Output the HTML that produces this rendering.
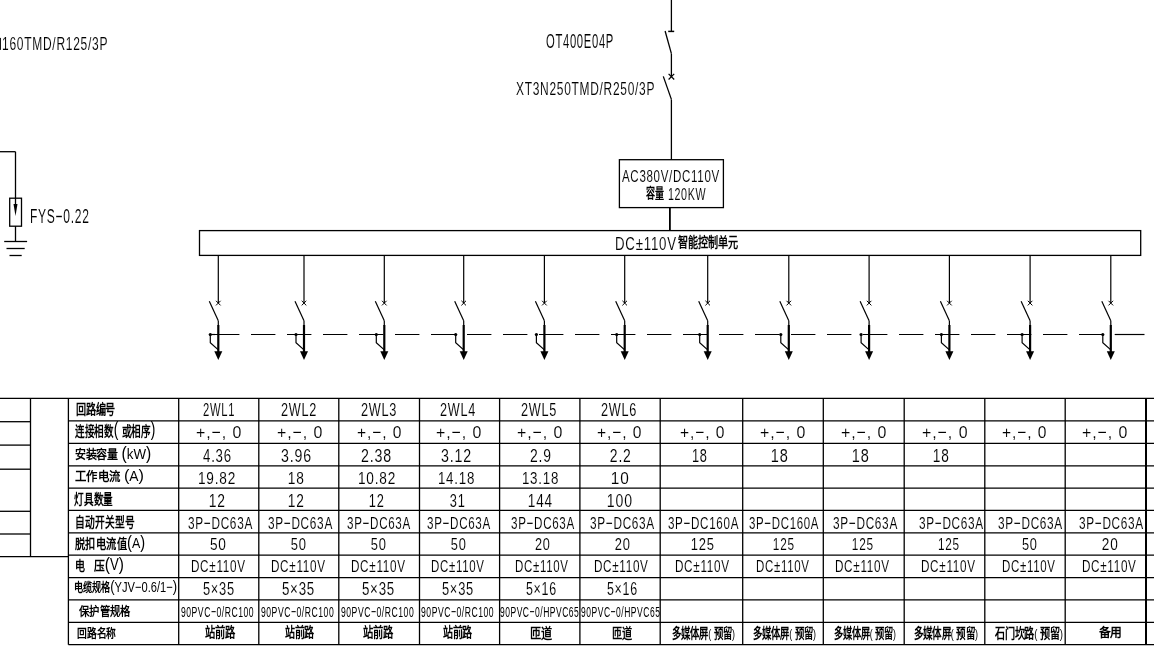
<!DOCTYPE html><html lang="zh-CN"><head><meta charset="utf-8"><title>Diagram</title><style>html,body{margin:0;padding:0;background:#fff;overflow:hidden}svg{display:block;will-change:transform}text{font-family:"Liberation Sans",sans-serif;fill:#000;white-space:pre}text.l{stroke:#fff;stroke-width:0.1px}text.l,text.p{letter-spacing:0.06em}.c{font-weight:bold}</style></head><body>
<svg width="1154" height="649" viewBox="0 0 1154 649">
<rect x="0" y="0" width="1154" height="649" fill="#fff"/>
<g id="lines"><line x1="671.40" y1="0.00" x2="671.40" y2="31.40" stroke="#000" stroke-width="1.3"/><line x1="668.20" y1="31.40" x2="674.20" y2="31.40" stroke="#000" stroke-width="1.5"/><line x1="665.10" y1="31.00" x2="671.40" y2="53.60" stroke="#000" stroke-width="1.3"/><line x1="671.40" y1="53.60" x2="671.40" y2="76.70" stroke="#000" stroke-width="1.3"/><line x1="668.60" y1="73.90" x2="674.20" y2="79.50" stroke="#000" stroke-width="1.2"/><line x1="668.60" y1="79.50" x2="674.20" y2="73.90" stroke="#000" stroke-width="1.2"/><line x1="663.30" y1="76.40" x2="671.40" y2="99.40" stroke="#000" stroke-width="1.3"/><line x1="671.40" y1="99.40" x2="671.40" y2="159.70" stroke="#000" stroke-width="1.3"/><rect x="619.4" y="159.7" width="104" height="47.9" fill="none" stroke="#000" stroke-width="1.3"/><line x1="669.90" y1="207.60" x2="669.90" y2="230.60" stroke="#000" stroke-width="1.8"/><rect x="199.5" y="230.6" width="941.2" height="24.8" fill="none" stroke="#000" stroke-width="1.3"/><line x1="0.00" y1="151.70" x2="15.50" y2="151.70" stroke="#000" stroke-width="1.3"/><line x1="15.50" y1="151.70" x2="15.50" y2="205.00" stroke="#000" stroke-width="1.3"/><line x1="15.50" y1="226.20" x2="15.50" y2="241.50" stroke="#000" stroke-width="1.3"/><rect x="9.7" y="198.2" width="11.8" height="28" fill="none" stroke="#000" stroke-width="1.3"/><path d="M13.5 204.0 L17.5 204.0 L15.5 216.0 Z" fill="#000"/><line x1="4.20" y1="241.50" x2="27.10" y2="241.50" stroke="#000" stroke-width="1.3"/><line x1="6.50" y1="248.50" x2="24.70" y2="248.50" stroke="#000" stroke-width="1.3"/><line x1="9.50" y1="255.50" x2="21.70" y2="255.50" stroke="#000" stroke-width="1.3"/><rect x="0" y="37.9" width="0.9" height="12" fill="#000"/><line x1="218.30" y1="255.40" x2="218.30" y2="303.10" stroke="#000" stroke-width="1.2"/><line x1="216.00" y1="300.80" x2="220.60" y2="305.40" stroke="#000" stroke-width="1.0"/><line x1="216.00" y1="305.40" x2="220.60" y2="300.80" stroke="#000" stroke-width="1.0"/><line x1="209.30" y1="301.30" x2="218.30" y2="320.80" stroke="#000" stroke-width="1.2"/><line x1="218.30" y1="320.80" x2="218.30" y2="325.50" stroke="#000" stroke-width="1.2"/><line x1="218.30" y1="325.00" x2="218.30" y2="352.00" stroke="#000" stroke-width="2.2"/><path d="M214.30 351.2 L222.30 351.2 L218.30 360.1 Z" fill="#000"/><circle cx="210.30" cy="334.5" r="1.6" fill="#000"/><path d="M210.30 334.5 L210.30 342.7 L218.30 349.9" fill="none" stroke="#000" stroke-width="1.2"/><line x1="304.00" y1="255.40" x2="304.00" y2="303.10" stroke="#000" stroke-width="1.2"/><line x1="301.70" y1="300.80" x2="306.30" y2="305.40" stroke="#000" stroke-width="1.0"/><line x1="301.70" y1="305.40" x2="306.30" y2="300.80" stroke="#000" stroke-width="1.0"/><line x1="295.00" y1="301.30" x2="304.00" y2="320.80" stroke="#000" stroke-width="1.2"/><line x1="304.00" y1="320.80" x2="304.00" y2="325.50" stroke="#000" stroke-width="1.2"/><line x1="304.00" y1="325.00" x2="304.00" y2="352.00" stroke="#000" stroke-width="2.2"/><path d="M300.00 351.2 L308.00 351.2 L304.00 360.1 Z" fill="#000"/><circle cx="296.00" cy="334.5" r="1.6" fill="#000"/><path d="M296.00 334.5 L296.00 342.7 L304.00 349.9" fill="none" stroke="#000" stroke-width="1.2"/><line x1="384.30" y1="255.40" x2="384.30" y2="303.10" stroke="#000" stroke-width="1.2"/><line x1="382.00" y1="300.80" x2="386.60" y2="305.40" stroke="#000" stroke-width="1.0"/><line x1="382.00" y1="305.40" x2="386.60" y2="300.80" stroke="#000" stroke-width="1.0"/><line x1="375.30" y1="301.30" x2="384.30" y2="320.80" stroke="#000" stroke-width="1.2"/><line x1="384.30" y1="320.80" x2="384.30" y2="325.50" stroke="#000" stroke-width="1.2"/><line x1="384.30" y1="325.00" x2="384.30" y2="352.00" stroke="#000" stroke-width="2.2"/><path d="M380.30 351.2 L388.30 351.2 L384.30 360.1 Z" fill="#000"/><circle cx="376.30" cy="334.5" r="1.6" fill="#000"/><path d="M376.30 334.5 L376.30 342.7 L384.30 349.9" fill="none" stroke="#000" stroke-width="1.2"/><line x1="463.70" y1="255.40" x2="463.70" y2="303.10" stroke="#000" stroke-width="1.2"/><line x1="461.40" y1="300.80" x2="466.00" y2="305.40" stroke="#000" stroke-width="1.0"/><line x1="461.40" y1="305.40" x2="466.00" y2="300.80" stroke="#000" stroke-width="1.0"/><line x1="454.70" y1="301.30" x2="463.70" y2="320.80" stroke="#000" stroke-width="1.2"/><line x1="463.70" y1="320.80" x2="463.70" y2="325.50" stroke="#000" stroke-width="1.2"/><line x1="463.70" y1="325.00" x2="463.70" y2="352.00" stroke="#000" stroke-width="2.2"/><path d="M459.70 351.2 L467.70 351.2 L463.70 360.1 Z" fill="#000"/><circle cx="455.70" cy="334.5" r="1.6" fill="#000"/><path d="M455.70 334.5 L455.70 342.7 L463.70 349.9" fill="none" stroke="#000" stroke-width="1.2"/><line x1="544.40" y1="255.40" x2="544.40" y2="303.10" stroke="#000" stroke-width="1.2"/><line x1="542.10" y1="300.80" x2="546.70" y2="305.40" stroke="#000" stroke-width="1.0"/><line x1="542.10" y1="305.40" x2="546.70" y2="300.80" stroke="#000" stroke-width="1.0"/><line x1="535.40" y1="301.30" x2="544.40" y2="320.80" stroke="#000" stroke-width="1.2"/><line x1="544.40" y1="320.80" x2="544.40" y2="325.50" stroke="#000" stroke-width="1.2"/><line x1="544.40" y1="325.00" x2="544.40" y2="352.00" stroke="#000" stroke-width="2.2"/><path d="M540.40 351.2 L548.40 351.2 L544.40 360.1 Z" fill="#000"/><circle cx="536.40" cy="334.5" r="1.6" fill="#000"/><path d="M536.40 334.5 L536.40 342.7 L544.40 349.9" fill="none" stroke="#000" stroke-width="1.2"/><line x1="624.70" y1="255.40" x2="624.70" y2="303.10" stroke="#000" stroke-width="1.2"/><line x1="622.40" y1="300.80" x2="627.00" y2="305.40" stroke="#000" stroke-width="1.0"/><line x1="622.40" y1="305.40" x2="627.00" y2="300.80" stroke="#000" stroke-width="1.0"/><line x1="615.70" y1="301.30" x2="624.70" y2="320.80" stroke="#000" stroke-width="1.2"/><line x1="624.70" y1="320.80" x2="624.70" y2="325.50" stroke="#000" stroke-width="1.2"/><line x1="624.70" y1="325.00" x2="624.70" y2="352.00" stroke="#000" stroke-width="2.2"/><path d="M620.70 351.2 L628.70 351.2 L624.70 360.1 Z" fill="#000"/><circle cx="616.70" cy="334.5" r="1.6" fill="#000"/><path d="M616.70 334.5 L616.70 342.7 L624.70 349.9" fill="none" stroke="#000" stroke-width="1.2"/><line x1="707.70" y1="255.40" x2="707.70" y2="303.10" stroke="#000" stroke-width="1.2"/><line x1="705.40" y1="300.80" x2="710.00" y2="305.40" stroke="#000" stroke-width="1.0"/><line x1="705.40" y1="305.40" x2="710.00" y2="300.80" stroke="#000" stroke-width="1.0"/><line x1="698.70" y1="301.30" x2="707.70" y2="320.80" stroke="#000" stroke-width="1.2"/><line x1="707.70" y1="320.80" x2="707.70" y2="325.50" stroke="#000" stroke-width="1.2"/><line x1="707.70" y1="325.00" x2="707.70" y2="352.00" stroke="#000" stroke-width="2.2"/><path d="M703.70 351.2 L711.70 351.2 L707.70 360.1 Z" fill="#000"/><circle cx="699.70" cy="334.5" r="1.6" fill="#000"/><path d="M699.70 334.5 L699.70 342.7 L707.70 349.9" fill="none" stroke="#000" stroke-width="1.2"/><line x1="788.80" y1="255.40" x2="788.80" y2="303.10" stroke="#000" stroke-width="1.2"/><line x1="786.50" y1="300.80" x2="791.10" y2="305.40" stroke="#000" stroke-width="1.0"/><line x1="786.50" y1="305.40" x2="791.10" y2="300.80" stroke="#000" stroke-width="1.0"/><line x1="779.80" y1="301.30" x2="788.80" y2="320.80" stroke="#000" stroke-width="1.2"/><line x1="788.80" y1="320.80" x2="788.80" y2="325.50" stroke="#000" stroke-width="1.2"/><line x1="788.80" y1="325.00" x2="788.80" y2="352.00" stroke="#000" stroke-width="2.2"/><path d="M784.80 351.2 L792.80 351.2 L788.80 360.1 Z" fill="#000"/><circle cx="780.80" cy="334.5" r="1.6" fill="#000"/><path d="M780.80 334.5 L780.80 342.7 L788.80 349.9" fill="none" stroke="#000" stroke-width="1.2"/><line x1="869.10" y1="255.40" x2="869.10" y2="303.10" stroke="#000" stroke-width="1.2"/><line x1="866.80" y1="300.80" x2="871.40" y2="305.40" stroke="#000" stroke-width="1.0"/><line x1="866.80" y1="305.40" x2="871.40" y2="300.80" stroke="#000" stroke-width="1.0"/><line x1="860.10" y1="301.30" x2="869.10" y2="320.80" stroke="#000" stroke-width="1.2"/><line x1="869.10" y1="320.80" x2="869.10" y2="325.50" stroke="#000" stroke-width="1.2"/><line x1="869.10" y1="325.00" x2="869.10" y2="352.00" stroke="#000" stroke-width="2.2"/><path d="M865.10 351.2 L873.10 351.2 L869.10 360.1 Z" fill="#000"/><circle cx="861.10" cy="334.5" r="1.6" fill="#000"/><path d="M861.10 334.5 L861.10 342.7 L869.10 349.9" fill="none" stroke="#000" stroke-width="1.2"/><line x1="949.40" y1="255.40" x2="949.40" y2="303.10" stroke="#000" stroke-width="1.2"/><line x1="947.10" y1="300.80" x2="951.70" y2="305.40" stroke="#000" stroke-width="1.0"/><line x1="947.10" y1="305.40" x2="951.70" y2="300.80" stroke="#000" stroke-width="1.0"/><line x1="940.40" y1="301.30" x2="949.40" y2="320.80" stroke="#000" stroke-width="1.2"/><line x1="949.40" y1="320.80" x2="949.40" y2="325.50" stroke="#000" stroke-width="1.2"/><line x1="949.40" y1="325.00" x2="949.40" y2="352.00" stroke="#000" stroke-width="2.2"/><path d="M945.40 351.2 L953.40 351.2 L949.40 360.1 Z" fill="#000"/><circle cx="941.40" cy="334.5" r="1.6" fill="#000"/><path d="M941.40 334.5 L941.40 342.7 L949.40 349.9" fill="none" stroke="#000" stroke-width="1.2"/><line x1="1030.10" y1="255.40" x2="1030.10" y2="303.10" stroke="#000" stroke-width="1.2"/><line x1="1027.80" y1="300.80" x2="1032.40" y2="305.40" stroke="#000" stroke-width="1.0"/><line x1="1027.80" y1="305.40" x2="1032.40" y2="300.80" stroke="#000" stroke-width="1.0"/><line x1="1021.10" y1="301.30" x2="1030.10" y2="320.80" stroke="#000" stroke-width="1.2"/><line x1="1030.10" y1="320.80" x2="1030.10" y2="325.50" stroke="#000" stroke-width="1.2"/><line x1="1030.10" y1="325.00" x2="1030.10" y2="352.00" stroke="#000" stroke-width="2.2"/><path d="M1026.10 351.2 L1034.10 351.2 L1030.10 360.1 Z" fill="#000"/><circle cx="1022.10" cy="334.5" r="1.6" fill="#000"/><path d="M1022.10 334.5 L1022.10 342.7 L1030.10 349.9" fill="none" stroke="#000" stroke-width="1.2"/><line x1="1110.80" y1="255.40" x2="1110.80" y2="303.10" stroke="#000" stroke-width="1.2"/><line x1="1108.50" y1="300.80" x2="1113.10" y2="305.40" stroke="#000" stroke-width="1.0"/><line x1="1108.50" y1="305.40" x2="1113.10" y2="300.80" stroke="#000" stroke-width="1.0"/><line x1="1101.80" y1="301.30" x2="1110.80" y2="320.80" stroke="#000" stroke-width="1.2"/><line x1="1110.80" y1="320.80" x2="1110.80" y2="325.50" stroke="#000" stroke-width="1.2"/><line x1="1110.80" y1="325.00" x2="1110.80" y2="352.00" stroke="#000" stroke-width="2.2"/><path d="M1106.80 351.2 L1114.80 351.2 L1110.80 360.1 Z" fill="#000"/><circle cx="1102.80" cy="334.5" r="1.6" fill="#000"/><path d="M1102.80 334.5 L1102.80 342.7 L1110.80 349.9" fill="none" stroke="#000" stroke-width="1.2"/><line x1="209.40" y1="334.50" x2="215.00" y2="334.50" stroke="#000" stroke-width="1.2"/><line x1="215" y1="334.5" x2="1114.7" y2="334.5" stroke="#000" stroke-width="1.2" stroke-dasharray="24.4 11.6"/><line x1="1114.70" y1="334.50" x2="1144.50" y2="334.50" stroke="#000" stroke-width="1.2"/><line x1="0.00" y1="398.30" x2="1154.00" y2="398.30" stroke="#000" stroke-width="1.3"/><line x1="68.40" y1="420.80" x2="1154.00" y2="420.80" stroke="#000" stroke-width="1.3"/><line x1="68.40" y1="443.30" x2="1154.00" y2="443.30" stroke="#000" stroke-width="1.3"/><line x1="68.40" y1="465.80" x2="1154.00" y2="465.80" stroke="#000" stroke-width="1.3"/><line x1="68.40" y1="488.20" x2="1154.00" y2="488.20" stroke="#000" stroke-width="1.3"/><line x1="68.40" y1="510.30" x2="1154.00" y2="510.30" stroke="#000" stroke-width="1.3"/><line x1="68.40" y1="532.80" x2="1154.00" y2="532.80" stroke="#000" stroke-width="1.3"/><line x1="68.40" y1="555.10" x2="1154.00" y2="555.10" stroke="#000" stroke-width="1.3"/><line x1="68.40" y1="577.60" x2="1154.00" y2="577.60" stroke="#000" stroke-width="1.3"/><line x1="68.40" y1="599.90" x2="1154.00" y2="599.90" stroke="#000" stroke-width="1.3"/><line x1="68.40" y1="622.30" x2="1154.00" y2="622.30" stroke="#000" stroke-width="1.3"/><line x1="68.40" y1="644.70" x2="1154.00" y2="644.70" stroke="#000" stroke-width="1.3"/><line x1="68.40" y1="398.30" x2="68.40" y2="644.70" stroke="#000" stroke-width="1.3"/><line x1="178.70" y1="398.30" x2="178.70" y2="644.70" stroke="#000" stroke-width="1.3"/><line x1="258.80" y1="398.30" x2="258.80" y2="644.70" stroke="#000" stroke-width="1.3"/><line x1="338.80" y1="398.30" x2="338.80" y2="644.70" stroke="#000" stroke-width="1.3"/><line x1="419.50" y1="398.30" x2="419.50" y2="644.70" stroke="#000" stroke-width="1.3"/><line x1="499.60" y1="398.30" x2="499.60" y2="644.70" stroke="#000" stroke-width="1.3"/><line x1="579.90" y1="398.30" x2="579.90" y2="644.70" stroke="#000" stroke-width="1.3"/><line x1="660.20" y1="398.30" x2="660.20" y2="644.70" stroke="#000" stroke-width="1.3"/><line x1="742.70" y1="398.30" x2="742.70" y2="644.70" stroke="#000" stroke-width="1.3"/><line x1="823.30" y1="398.30" x2="823.30" y2="644.70" stroke="#000" stroke-width="1.3"/><line x1="904.20" y1="398.30" x2="904.20" y2="644.70" stroke="#000" stroke-width="1.3"/><line x1="984.80" y1="398.30" x2="984.80" y2="644.70" stroke="#000" stroke-width="1.3"/><line x1="1065.20" y1="398.30" x2="1065.20" y2="644.70" stroke="#000" stroke-width="1.3"/><line x1="1146.00" y1="398.30" x2="1146.00" y2="644.70" stroke="#000" stroke-width="2.0"/><line x1="30.50" y1="398.30" x2="30.50" y2="556.70" stroke="#000" stroke-width="1.3"/><line x1="0.00" y1="421.70" x2="30.50" y2="421.70" stroke="#000" stroke-width="1.3"/><line x1="0.00" y1="445.10" x2="30.50" y2="445.10" stroke="#000" stroke-width="1.3"/><line x1="0.00" y1="469.20" x2="30.50" y2="469.20" stroke="#000" stroke-width="1.3"/><line x1="0.00" y1="511.30" x2="30.50" y2="511.30" stroke="#000" stroke-width="1.3"/><line x1="0.00" y1="534.00" x2="30.50" y2="534.00" stroke="#000" stroke-width="1.3"/><line x1="0.00" y1="556.70" x2="68.40" y2="556.70" stroke="#000" stroke-width="1.3"/></g>
<text id="t0" class="l" x="1.99" y="50.46" font-size="18.38" textLength="106.18" lengthAdjust="spacingAndGlyphs">160TMD/R125/3P</text>
<text id="t1" class="l" x="546.00" y="48.42" font-size="19.78" textLength="68.01" lengthAdjust="spacingAndGlyphs">OT400E04P</text>
<text id="t2" class="l" x="516.01" y="94.56" font-size="18.52" textLength="139.12" lengthAdjust="spacingAndGlyphs">XT3N250TMD/R250/3P</text>
<text id="t3" class="l" x="621.98" y="182.16" font-size="17.13" textLength="97.99" lengthAdjust="spacingAndGlyphs">AC380V/DC110V</text>
<text id="t4" x="645.93" y="198.46" font-size="13.08" textLength="17.96" lengthAdjust="spacingAndGlyphs"><tspan font-weight="bold">容量</tspan></text>
<text id="t5" class="l" x="667.93" y="199.56" font-size="16.04" textLength="38.29" lengthAdjust="spacingAndGlyphs">120KW</text>
<text id="t6" class="l" x="29.95" y="223.49" font-size="19.56" textLength="59.80" lengthAdjust="spacingAndGlyphs">FYS−0.22</text>
<text id="t7" class="l" x="614.98" y="249.86" font-size="18.10" textLength="61.87" lengthAdjust="spacingAndGlyphs">DC±110V</text>
<text id="t8" x="677.96" y="247.41" font-size="13.17" textLength="59.84" lengthAdjust="spacingAndGlyphs"><tspan font-weight="bold">智能控制单元</tspan></text>
<text id="t9" x="75.99" y="414.03" font-size="13.39" textLength="39.31" lengthAdjust="spacingAndGlyphs"><tspan font-weight="bold">回路编号</tspan></text>
<text id="t10" x="74.99" y="436.36" font-size="13.82" textLength="80.40" lengthAdjust="spacingAndGlyphs"><tspan font-weight="bold">连接相数</tspan><tspan font-size="19.89">(</tspan><tspan font-size="16.86"> </tspan><tspan font-weight="bold">或相序</tspan><tspan font-size="19.89">)</tspan></text>
<text id="t11" x="74.97" y="458.59" font-size="12.27" textLength="76.29" lengthAdjust="spacingAndGlyphs"><tspan font-weight="bold">安装容量</tspan><tspan font-size="14.97"> </tspan><tspan font-size="17.67">(</tspan><tspan font-size="14.97">kW</tspan><tspan font-size="17.67">)</tspan></text>
<text id="t12" x="74.96" y="480.61" font-size="12.08" textLength="69.08" lengthAdjust="spacingAndGlyphs"><tspan font-weight="bold">工作电流</tspan><tspan font-size="14.74"> </tspan><tspan font-size="17.39">(</tspan><tspan font-size="14.74">A</tspan><tspan font-size="17.39">)</tspan></text>
<text id="t13" x="73.98" y="504.49" font-size="13.71" textLength="39.28" lengthAdjust="spacingAndGlyphs"><tspan font-weight="bold">灯具数量</tspan></text>
<text id="t14" x="75.00" y="526.81" font-size="13.71" textLength="59.82" lengthAdjust="spacingAndGlyphs"><tspan font-weight="bold">自动开关型号</tspan></text>
<text id="t15" x="74.96" y="547.71" font-size="12.76" textLength="70.13" lengthAdjust="spacingAndGlyphs"><tspan font-weight="bold">脱扣电流值</tspan><tspan font-size="18.36">(</tspan><tspan font-size="15.56">A</tspan><tspan font-size="18.36">)</tspan></text>
<text id="t16" x="74.84" y="570.28" font-size="13.00" textLength="9.99" lengthAdjust="spacingAndGlyphs"><tspan font-weight="bold">电</tspan></text>
<text id="t17" x="94.00" y="570.39" font-size="12.95" textLength="29.96" lengthAdjust="spacingAndGlyphs"><tspan font-weight="bold">压</tspan><tspan font-size="18.64">(</tspan><tspan font-size="15.80">V</tspan><tspan font-size="18.64">)</tspan></text>
<text id="t18" x="73.97" y="592.11" font-size="12.08" textLength="103.08" lengthAdjust="spacingAndGlyphs"><tspan font-weight="bold">电缆规格</tspan><tspan font-size="17.39">(</tspan><tspan font-size="14.74">YJV−0.6/1−</tspan><tspan font-size="17.39">)</tspan></text>
<text id="t19" x="78.92" y="615.61" font-size="11.95" textLength="51.70" lengthAdjust="spacingAndGlyphs"><tspan font-weight="bold">保护管规格</tspan></text>
<text id="t20" x="77.00" y="638.03" font-size="11.97" textLength="39.24" lengthAdjust="spacingAndGlyphs"><tspan font-weight="bold">回路名称</tspan></text>
<text id="t21" class="l" x="203.02" y="416.31" font-size="17.73" textLength="32.04" lengthAdjust="spacingAndGlyphs">2WL1</text>
<text id="t22" class="l" x="280.94" y="416.31" font-size="17.73" textLength="36.19" lengthAdjust="spacingAndGlyphs">2WL2</text>
<text id="t23" class="l" x="360.91" y="416.31" font-size="17.73" textLength="36.26" lengthAdjust="spacingAndGlyphs">2WL3</text>
<text id="t24" class="l" x="439.95" y="416.31" font-size="17.73" textLength="36.14" lengthAdjust="spacingAndGlyphs">2WL4</text>
<text id="t25" class="l" x="520.95" y="416.31" font-size="17.73" textLength="36.19" lengthAdjust="spacingAndGlyphs">2WL5</text>
<text id="t26" class="l" x="600.94" y="416.31" font-size="17.73" textLength="36.18" lengthAdjust="spacingAndGlyphs">2WL6</text>
<text id="t27" class="l" x="195.97" y="438.16" font-size="16.85" textLength="46.46" lengthAdjust="spacingAndGlyphs">+,−, 0</text>
<text id="t28" class="l" x="276.95" y="438.16" font-size="16.85" textLength="46.48" lengthAdjust="spacingAndGlyphs">+,−, 0</text>
<text id="t29" class="l" x="356.96" y="438.16" font-size="16.85" textLength="45.51" lengthAdjust="spacingAndGlyphs">+,−, 0</text>
<text id="t30" class="l" x="435.95" y="438.16" font-size="16.85" textLength="46.44" lengthAdjust="spacingAndGlyphs">+,−, 0</text>
<text id="t31" class="l" x="516.95" y="438.16" font-size="16.85" textLength="46.48" lengthAdjust="spacingAndGlyphs">+,−, 0</text>
<text id="t32" class="l" x="596.96" y="438.16" font-size="16.85" textLength="45.51" lengthAdjust="spacingAndGlyphs">+,−, 0</text>
<text id="t33" class="l" x="679.95" y="438.16" font-size="16.85" textLength="45.49" lengthAdjust="spacingAndGlyphs">+,−, 0</text>
<text id="t34" class="l" x="759.98" y="438.16" font-size="16.85" textLength="46.43" lengthAdjust="spacingAndGlyphs">+,−, 0</text>
<text id="t35" class="l" x="840.93" y="438.16" font-size="16.85" textLength="46.51" lengthAdjust="spacingAndGlyphs">+,−, 0</text>
<text id="t36" class="l" x="921.96" y="438.16" font-size="16.85" textLength="46.50" lengthAdjust="spacingAndGlyphs">+,−, 0</text>
<text id="t37" class="l" x="1001.94" y="438.16" font-size="16.85" textLength="45.47" lengthAdjust="spacingAndGlyphs">+,−, 0</text>
<text id="t38" class="l" x="1081.95" y="438.16" font-size="16.85" textLength="46.47" lengthAdjust="spacingAndGlyphs">+,−, 0</text>
<text id="t39" class="l" x="203.00" y="461.59" font-size="17.45" textLength="28.91" lengthAdjust="spacingAndGlyphs">4.36</text>
<text id="t40" class="l" x="280.96" y="461.59" font-size="17.45" textLength="30.97" lengthAdjust="spacingAndGlyphs">3.96</text>
<text id="t41" class="l" x="360.97" y="461.59" font-size="17.45" textLength="31.01" lengthAdjust="spacingAndGlyphs">2.38</text>
<text id="t42" class="l" x="440.90" y="461.59" font-size="17.45" textLength="31.05" lengthAdjust="spacingAndGlyphs">3.12</text>
<text id="t43" class="l" x="529.88" y="461.59" font-size="17.45" textLength="21.89" lengthAdjust="spacingAndGlyphs">2.9</text>
<text id="t44" class="l" x="609.82" y="461.59" font-size="17.45" textLength="21.88" lengthAdjust="spacingAndGlyphs">2.2</text>
<text id="t45" class="l" x="691.94" y="461.59" font-size="17.45" textLength="15.76" lengthAdjust="spacingAndGlyphs">18</text>
<text id="t46" class="l" x="770.82" y="461.59" font-size="17.45" textLength="17.91" lengthAdjust="spacingAndGlyphs">18</text>
<text id="t47" class="l" x="851.84" y="461.59" font-size="17.45" textLength="17.91" lengthAdjust="spacingAndGlyphs">18</text>
<text id="t48" class="l" x="932.81" y="461.59" font-size="17.45" textLength="16.84" lengthAdjust="spacingAndGlyphs">18</text>
<text id="t49" class="l" x="197.92" y="483.76" font-size="16.72" textLength="38.29" lengthAdjust="spacingAndGlyphs">19.82</text>
<text id="t50" class="l" x="287.80" y="483.76" font-size="16.72" textLength="16.91" lengthAdjust="spacingAndGlyphs">18</text>
<text id="t51" class="l" x="357.91" y="483.76" font-size="16.72" textLength="38.24" lengthAdjust="spacingAndGlyphs">10.82</text>
<text id="t52" class="l" x="437.92" y="483.76" font-size="16.72" textLength="37.22" lengthAdjust="spacingAndGlyphs">14.18</text>
<text id="t53" class="l" x="521.92" y="483.76" font-size="16.72" textLength="37.22" lengthAdjust="spacingAndGlyphs">13.18</text>
<text id="t54" class="l" x="610.73" y="483.76" font-size="16.72" textLength="18.98" lengthAdjust="spacingAndGlyphs">10</text>
<text id="t55" class="l" x="208.68" y="506.55" font-size="18.40" textLength="17.08" lengthAdjust="spacingAndGlyphs">12</text>
<text id="t56" class="l" x="287.83" y="506.55" font-size="18.40" textLength="16.90" lengthAdjust="spacingAndGlyphs">12</text>
<text id="t57" class="l" x="368.85" y="506.55" font-size="18.40" textLength="15.79" lengthAdjust="spacingAndGlyphs">12</text>
<text id="t58" class="l" x="449.81" y="506.55" font-size="18.40" textLength="15.84" lengthAdjust="spacingAndGlyphs">31</text>
<text id="t59" class="l" x="527.82" y="506.55" font-size="18.40" textLength="25.04" lengthAdjust="spacingAndGlyphs">144</text>
<text id="t60" class="l" x="606.85" y="506.55" font-size="18.40" textLength="26.04" lengthAdjust="spacingAndGlyphs">100</text>
<text id="t61" class="l" x="188.01" y="529.49" font-size="17.34" textLength="64.96" lengthAdjust="spacingAndGlyphs">3P−DC63A</text>
<text id="t62" class="l" x="267.97" y="529.49" font-size="17.34" textLength="64.98" lengthAdjust="spacingAndGlyphs">3P−DC63A</text>
<text id="t63" class="l" x="347.02" y="529.49" font-size="17.34" textLength="63.90" lengthAdjust="spacingAndGlyphs">3P−DC63A</text>
<text id="t64" class="l" x="427.00" y="529.49" font-size="17.34" textLength="63.95" lengthAdjust="spacingAndGlyphs">3P−DC63A</text>
<text id="t65" class="l" x="511.00" y="529.49" font-size="17.34" textLength="63.95" lengthAdjust="spacingAndGlyphs">3P−DC63A</text>
<text id="t66" class="l" x="589.99" y="529.49" font-size="17.34" textLength="64.96" lengthAdjust="spacingAndGlyphs">3P−DC63A</text>
<text id="t67" class="l" x="667.98" y="529.49" font-size="17.34" textLength="71.12" lengthAdjust="spacingAndGlyphs">3P−DC160A</text>
<text id="t68" class="l" x="749.01" y="529.49" font-size="17.34" textLength="70.09" lengthAdjust="spacingAndGlyphs">3P−DC160A</text>
<text id="t69" class="l" x="832.98" y="529.49" font-size="17.34" textLength="64.98" lengthAdjust="spacingAndGlyphs">3P−DC63A</text>
<text id="t70" class="l" x="918.99" y="529.49" font-size="17.34" textLength="64.95" lengthAdjust="spacingAndGlyphs">3P−DC63A</text>
<text id="t71" class="l" x="997.99" y="529.49" font-size="17.34" textLength="64.96" lengthAdjust="spacingAndGlyphs">3P−DC63A</text>
<text id="t72" class="l" x="1078.96" y="529.49" font-size="17.34" textLength="64.98" lengthAdjust="spacingAndGlyphs">3P−DC63A</text>
<text id="t73" class="l" x="209.90" y="550.12" font-size="16.94" textLength="16.83" lengthAdjust="spacingAndGlyphs">50</text>
<text id="t74" class="l" x="290.74" y="550.12" font-size="16.94" textLength="16.00" lengthAdjust="spacingAndGlyphs">50</text>
<text id="t75" class="l" x="370.75" y="550.12" font-size="16.94" textLength="15.93" lengthAdjust="spacingAndGlyphs">50</text>
<text id="t76" class="l" x="450.82" y="550.12" font-size="16.94" textLength="15.81" lengthAdjust="spacingAndGlyphs">50</text>
<text id="t77" class="l" x="534.91" y="550.12" font-size="16.94" textLength="15.65" lengthAdjust="spacingAndGlyphs">20</text>
<text id="t78" class="l" x="614.76" y="550.12" font-size="16.94" textLength="15.93" lengthAdjust="spacingAndGlyphs">20</text>
<text id="t79" class="l" x="690.83" y="550.12" font-size="16.94" textLength="23.99" lengthAdjust="spacingAndGlyphs">125</text>
<text id="t80" class="l" x="772.87" y="550.12" font-size="16.94" textLength="21.90" lengthAdjust="spacingAndGlyphs">125</text>
<text id="t81" class="l" x="851.87" y="550.12" font-size="16.94" textLength="21.91" lengthAdjust="spacingAndGlyphs">125</text>
<text id="t82" class="l" x="937.88" y="550.12" font-size="16.94" textLength="21.81" lengthAdjust="spacingAndGlyphs">125</text>
<text id="t83" class="l" x="1021.88" y="550.12" font-size="16.94" textLength="15.77" lengthAdjust="spacingAndGlyphs">50</text>
<text id="t84" class="l" x="1101.86" y="550.12" font-size="16.94" textLength="16.78" lengthAdjust="spacingAndGlyphs">20</text>
<text id="t85" class="l" x="190.96" y="572.06" font-size="17.41" textLength="54.69" lengthAdjust="spacingAndGlyphs">DC±110V</text>
<text id="t86" class="l" x="270.97" y="572.06" font-size="17.41" textLength="54.69" lengthAdjust="spacingAndGlyphs">DC±110V</text>
<text id="t87" class="l" x="350.96" y="572.06" font-size="17.41" textLength="54.69" lengthAdjust="spacingAndGlyphs">DC±110V</text>
<text id="t88" class="l" x="431.01" y="572.06" font-size="17.41" textLength="53.63" lengthAdjust="spacingAndGlyphs">DC±110V</text>
<text id="t89" class="l" x="515.01" y="572.06" font-size="17.41" textLength="53.63" lengthAdjust="spacingAndGlyphs">DC±110V</text>
<text id="t90" class="l" x="593.97" y="572.06" font-size="17.41" textLength="54.65" lengthAdjust="spacingAndGlyphs">DC±110V</text>
<text id="t91" class="l" x="674.96" y="572.06" font-size="17.41" textLength="54.72" lengthAdjust="spacingAndGlyphs">DC±110V</text>
<text id="t92" class="l" x="756.01" y="572.06" font-size="17.41" textLength="53.63" lengthAdjust="spacingAndGlyphs">DC±110V</text>
<text id="t93" class="l" x="834.98" y="572.06" font-size="17.41" textLength="54.67" lengthAdjust="spacingAndGlyphs">DC±110V</text>
<text id="t94" class="l" x="920.97" y="572.06" font-size="17.41" textLength="54.70" lengthAdjust="spacingAndGlyphs">DC±110V</text>
<text id="t95" class="l" x="1001.98" y="572.06" font-size="17.41" textLength="53.69" lengthAdjust="spacingAndGlyphs">DC±110V</text>
<text id="t96" class="l" x="1081.96" y="572.06" font-size="17.41" textLength="54.67" lengthAdjust="spacingAndGlyphs">DC±110V</text>
<text id="t97" class="l" x="202.93" y="595.06" font-size="17.69" textLength="32.02" lengthAdjust="spacingAndGlyphs">5×35</text>
<text id="t98" class="l" x="281.92" y="595.06" font-size="17.69" textLength="33.12" lengthAdjust="spacingAndGlyphs">5×35</text>
<text id="t99" class="l" x="361.95" y="595.06" font-size="17.69" textLength="33.05" lengthAdjust="spacingAndGlyphs">5×35</text>
<text id="t100" class="l" x="441.95" y="595.06" font-size="17.69" textLength="32.08" lengthAdjust="spacingAndGlyphs">5×35</text>
<text id="t101" class="l" x="525.95" y="595.06" font-size="17.69" textLength="31.02" lengthAdjust="spacingAndGlyphs">5×16</text>
<text id="t102" class="l" x="606.93" y="595.06" font-size="17.69" textLength="31.01" lengthAdjust="spacingAndGlyphs">5×16</text>
<text id="t103" class="p" x="180.96" y="616.97" font-size="15.46" textLength="73.22" lengthAdjust="spacingAndGlyphs">90PVC−0/RC100</text>
<text id="t104" class="p" x="260.98" y="616.97" font-size="15.46" textLength="73.24" lengthAdjust="spacingAndGlyphs">90PVC−0/RC100</text>
<text id="t105" class="p" x="340.97" y="616.97" font-size="15.46" textLength="73.24" lengthAdjust="spacingAndGlyphs">90PVC−0/RC100</text>
<text id="t106" class="p" x="420.99" y="616.97" font-size="15.46" textLength="73.21" lengthAdjust="spacingAndGlyphs">90PVC−0/RC100</text>
<text id="t107" class="p" x="499.98" y="616.97" font-size="15.46" textLength="79.39" lengthAdjust="spacingAndGlyphs">90PVC−0/HPVC65</text>
<text id="t108" class="p" x="581.01" y="616.97" font-size="15.46" textLength="79.37" lengthAdjust="spacingAndGlyphs">90PVC−0/HPVC65</text>
<text id="t109" x="204.99" y="637.45" font-size="13.39" textLength="29.90" lengthAdjust="spacingAndGlyphs"><tspan font-weight="bold">站前路</tspan></text>
<text id="t110" x="284.91" y="637.45" font-size="13.39" textLength="29.08" lengthAdjust="spacingAndGlyphs"><tspan font-weight="bold">站前路</tspan></text>
<text id="t111" x="362.99" y="637.45" font-size="13.39" textLength="29.96" lengthAdjust="spacingAndGlyphs"><tspan font-weight="bold">站前路</tspan></text>
<text id="t112" x="443.00" y="637.45" font-size="13.39" textLength="29.09" lengthAdjust="spacingAndGlyphs"><tspan font-weight="bold">站前路</tspan></text>
<text id="t113" x="530.08" y="638.39" font-size="13.33" textLength="21.76" lengthAdjust="spacingAndGlyphs"><tspan font-weight="bold">匝道</tspan></text>
<text id="t114" x="611.87" y="638.39" font-size="13.33" textLength="19.83" lengthAdjust="spacingAndGlyphs"><tspan font-weight="bold">匝道</tspan></text>
<text id="t115" x="671.94" y="637.91" font-size="13.43" textLength="62.93" lengthAdjust="spacingAndGlyphs"><tspan font-weight="bold">多媒体屏</tspan><tspan font-size="12.76">(</tspan><tspan font-size="13.43"> </tspan><tspan font-weight="bold">预留</tspan><tspan font-size="12.76">)</tspan></text>
<text id="t116" x="753.00" y="637.91" font-size="13.43" textLength="62.89" lengthAdjust="spacingAndGlyphs"><tspan font-weight="bold">多媒体屏</tspan><tspan font-size="12.76">(</tspan><tspan font-size="13.43"> </tspan><tspan font-weight="bold">预留</tspan><tspan font-size="12.76">)</tspan></text>
<text id="t117" x="833.96" y="637.91" font-size="13.43" textLength="61.90" lengthAdjust="spacingAndGlyphs"><tspan font-weight="bold">多媒体屏</tspan><tspan font-size="12.76">(</tspan><tspan font-size="13.43"> </tspan><tspan font-weight="bold">预留</tspan><tspan font-size="12.76">)</tspan></text>
<text id="t118" x="913.95" y="637.91" font-size="13.43" textLength="63.98" lengthAdjust="spacingAndGlyphs"><tspan font-weight="bold">多媒体屏</tspan><tspan font-size="12.76">(</tspan><tspan font-size="13.43"> </tspan><tspan font-weight="bold">预留</tspan><tspan font-size="12.76">)</tspan></text>
<text id="t119" x="994.98" y="637.91" font-size="13.43" textLength="68.03" lengthAdjust="spacingAndGlyphs"><tspan font-weight="bold">石门坎路</tspan><tspan font-size="12.76">(</tspan><tspan font-size="13.43"> </tspan><tspan font-weight="bold">预留</tspan><tspan font-size="12.76">)</tspan></text>
<text id="t120" x="1098.94" y="636.63" font-size="12.44" textLength="22.76" lengthAdjust="spacingAndGlyphs"><tspan font-weight="bold">备用</tspan></text>
</svg></body></html>
